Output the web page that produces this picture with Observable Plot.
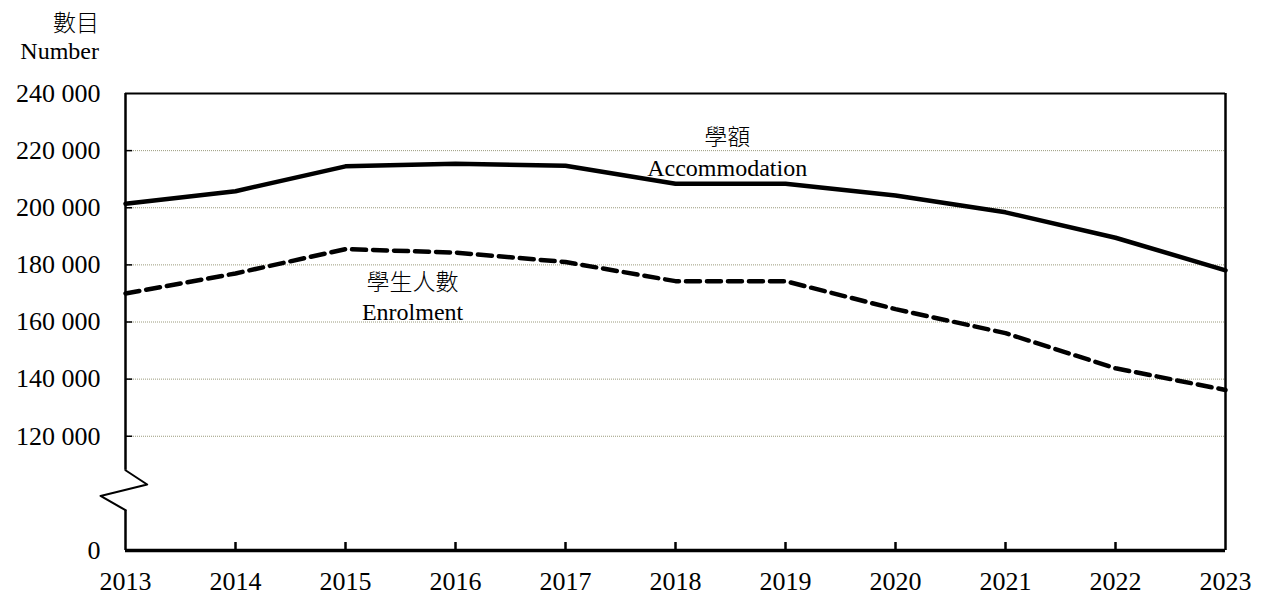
<!DOCTYPE html>
<html>
<head>
<meta charset="utf-8">
<script src="https://cdn.jsdelivr.net/npm/d3@7"></script>
<script src="https://cdn.jsdelivr.net/npm/@observablehq/plot@0.6"></script>
<style>
  html, body { margin: 0; padding: 0; background: #fff; }
  #wrap { width: 1266px; height: 599px; position: relative; overflow: hidden; }
  #head { height: 66px; width: 99px; text-align: right; font-family: "Liberation Serif", "Noto Sans CJK TC", serif; font-size: 24px; color: #000; line-height: 30px; padding-top: 6px; box-sizing: border-box; }
  #head div { white-space: nowrap; }
  svg { display: block; }
</style>
</head>
<body>
<div id="wrap">
  <div id="head"><div style="font-family:'Noto Sans CJK TC',sans-serif;font-size:23px;font-weight:300;">數目</div><div>Number</div></div>
  <div id="chart"></div>
</div>
<script>
const years = [2013, 2014, 2015, 2016, 2017, 2018, 2019, 2020, 2021, 2022, 2023];
const accommodation = [201400, 205800, 214500, 215400, 214700, 208400, 208400, 204300, 198400, 189500, 178100];
const enrolment = [170000, 177000, 185500, 184300, 181000, 174300, 174300, 164500, 156100, 143800, 136200];
const yTickValues = [80000, 120000, 140000, 160000, 180000, 200000, 220000, 240000];
const yTickLabels = ["0", "120 000", "140 000", "160 000", "180 000", "200 000", "220 000", "240 000"];
const gridValues = [120000, 140000, 160000, 180000, 200000, 220000];
const labelsZh = [
  {x: 2018.47, y: 224600, text: "學額"},
  {x: 2015.61, y: 173900, text: "學生人數"}
];
const labelsEn = [
  {x: 2018.47, y: 213800, text: "Accommodation"},
  {x: 2015.61, y: 163400, text: "Enrolment"}
];
// axis-break zigzag (x in years, y in axis units)
const breakPts = [
  {x: 2013, y: 108100}, {x: 2013.197, y: 103100}, {x: 2012.773, y: 99100}, {x: 2013, y: 94100}
];

const accData = years.map((yr, i) => ({year: yr, value: accommodation[i]}));
const enrData = years.map((yr, i) => ({year: yr, value: enrolment[i]}));
const fmtY = v => yTickLabels[yTickValues.indexOf(v)];
const serif = "'Liberation Serif', 'Noto Sans CJK TC', serif";
const cjk = "'Noto Sans CJK TC', sans-serif";

const chart = Plot.plot({
  width: 1266,
  height: 533,
  marginLeft: 125,
  marginRight: 41,
  marginTop: 27,
  marginBottom: 49,
  style: {fontFamily: serif, fontSize: "26px", background: "white", color: "black", overflow: "visible"},
  x: {domain: [2013, 2023], axis: null},
  y: {domain: [80000, 240000], axis: null},
  marks: [
    Plot.ruleY(gridValues, {stroke: "#9a9a7c", strokeWidth: 1, strokeDasharray: "1,1"}),
    Plot.ruleY(gridValues, {x1: 2013, x2: 2013.065, stroke: "#000", strokeWidth: 1.5}),
    Plot.ruleY([240000], {stroke: "#000", strokeWidth: 2}),
    Plot.ruleX([2023], {stroke: "#000", strokeWidth: 2.5}),
    Plot.ruleX([2013], {y1: 108100, y2: 240000, stroke: "#000", strokeWidth: 2.5}),
    Plot.ruleX([2013], {y1: 80000, y2: 94100, stroke: "#000", strokeWidth: 2.5}),
    Plot.line(breakPts, {x: "x", y: "y", stroke: "#000", strokeWidth: 2, clip: false}),
    Plot.ruleX(years.slice(1, -1), {y1: 80000, y2: 82800, stroke: "#000", strokeWidth: 2.5}),
    Plot.ruleY([80000], {stroke: "#000", strokeWidth: 3.5}),
    Plot.line(accData, {x: "year", y: "value", stroke: "#000", strokeWidth: 4.5}),
    Plot.line(enrData, {x: "year", y: "value", stroke: "#000", strokeWidth: 4.5, strokeDasharray: "14,7"}),
    Plot.text(labelsZh, {x: "x", y: "y", text: "text", fontSize: 23, fontWeight: 300, fill: "#000", fontFamily: cjk}),
    Plot.text(labelsEn, {x: "x", y: "y", text: "text", fontSize: 24, fill: "#000", fontFamily: serif}),
    Plot.axisX({ticks: years, tickFormat: d => String(d), tickSize: 0, tickPadding: 21, fontSize: 26, fontFamily: serif}),
    Plot.axisY({ticks: yTickValues, tickFormat: fmtY, tickSize: 0, tickPadding: 25, fontSize: 26, fontFamily: serif})
  ]
});
document.getElementById("chart").appendChild(chart);
</script>
</body>
</html>
